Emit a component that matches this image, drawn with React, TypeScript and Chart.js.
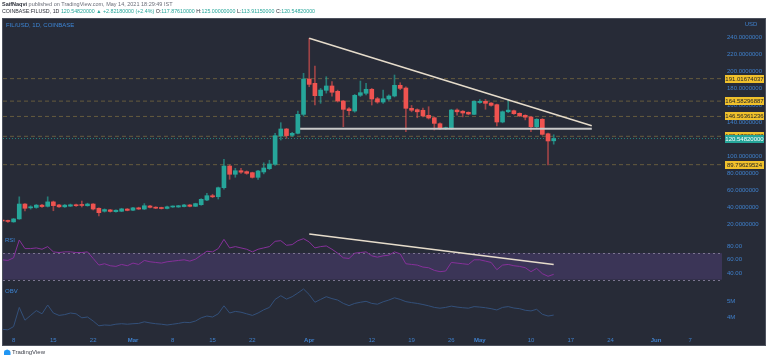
import React, { useEffect, useRef } from 'react';
import { Chart, registerables } from 'chart.js';
Chart.register(...registerables);

// ---- data (day index 0 = Feb 6, 2021) ----
const opens = [
  24.5, 23.8, 22.5, 26, 43.5, 39, 39.5, 42.2, 40.8, 46,
  42.4, 40.2, 41, 42.6, 42.8, 41.5, 43.5, 38.5, 35, 36.6,
  34.5, 35, 37.6, 36.2, 39, 37.6, 41.2, 39.8, 39.2, 38.3,
  40, 40, 40.5, 42.4, 40.8, 42.7, 48.2, 53.3, 52.1, 62.7,
  88.2, 78.5, 82.7, 81.6, 80.4, 74.9, 81.2, 85.1, 90.2, 123.5,
  131.8, 124.3, 126.7, 149, 190.6, 185.5, 171, 177.3, 182.4, 176.1,
  164.7, 155.5, 152.9, 171.4, 173.8, 178.5, 167.4, 163.5, 167.1, 170.6,
  183.2, 180, 156.1, 154.5, 153.8, 147.9, 145, 138, 132.1, 131.8,
  154.1, 152.7, 151.4, 149, 162.9, 164.3, 162.3, 160.4, 140, 152.1,
  153.3, 150.2, 147.9, 145.9, 134.5, 143.2, 126.2, 117.88,
];
const closes = [
  23.5, 23, 26, 43.5, 38.5, 40.2, 42.2, 40.5, 46, 41.6,
  40.2, 42.2, 42.6, 41.5, 41.8, 43.5, 37.6, 33.3, 37, 34.8,
  36.2, 37.8, 36, 39, 37.6, 41.5, 39.6, 38.6, 38.2, 40.2,
  40.8, 41.5, 42.4, 40.8, 44, 49, 53.3, 52, 62.7, 88.2,
  78.5, 82.7, 81, 79.6, 74.9, 82.4, 85.9, 90.6, 123.9, 131.8,
  124, 126.7, 149, 190.6, 184.3, 171, 177.6, 182.4, 175, 164.7,
  154.9, 153.3, 171.4, 174.5, 178.5, 167.1, 163.5, 167.4, 170.6, 183.2,
  179.6, 156.1, 153.8, 152, 147.1, 144.7, 138.4, 132.1, 133.2, 154.1,
  152, 150.6, 149.4, 164.3, 164.3, 162, 159.6, 140, 152.1, 154,
  149.8, 147.1, 145.7, 134.5, 143.2, 125.5, 117.69, 120.5482,
];
const highs = [
  25.5, 24.5, 26.5, 52, 44, 41.5, 43, 43, 52, 47,
  43, 43, 43.5, 43.5, 47, 44.5, 44, 39, 37.8, 37.2,
  36.8, 38.5, 38.2, 39.5, 39.8, 44, 42, 40.3, 39.8, 41,
  41.3, 42, 43, 43, 44.5, 49.8, 56, 55, 63.5, 96,
  89.5, 85.5, 85.5, 82.5, 81, 83, 92, 95, 126.7, 139.2,
  132.5, 128, 153, 197.3, 238.5, 205.9, 179.5, 193.3, 187.5, 177.5,
  165.5, 157, 172.5, 188.2, 185.5, 179.5, 169, 177.6, 172, 195.3,
  186.2, 181.5, 159.5, 155.5, 156.5, 158, 146, 139, 134, 155,
  155.5, 153.5, 152, 165, 166.5, 166.5, 163, 161, 153, 165.9,
  154, 150.8, 148.5, 146.5, 144, 144, 127, 125,
];
const lows = [
  22.5, 22, 22, 25.5, 35.3, 37.5, 38.5, 39.5, 40, 35.6,
  39.5, 39.5, 40.5, 40.8, 40, 41, 36.5, 29.4, 34, 34,
  33.8, 34.5, 35.5, 35.8, 37, 37, 39, 38, 37.6, 37.8,
  39.5, 39.6, 40, 40.2, 40.5, 42, 47.5, 51, 49.4, 61,
  72.6, 75, 79.5, 78.5, 74, 72.5, 79, 84, 89, 118.8,
  120.8, 123, 126, 147, 181.5, 160, 162, 174, 170.5, 163.5,
  134.5, 148, 151.5, 170, 172, 160, 162, 162, 165.5, 169.5,
  178, 128.6, 152, 145, 146, 143.5, 130.6, 131, 131, 131,
  148, 146, 148.5, 148.5, 162, 155, 158.5, 135.3, 139, 151,
  149, 146.5, 142.5, 128.6, 133.5, 124.5, 89.4, 113.91,
];
const rsiValues = [
  60, 59, 63, 90, 77, 77, 78, 76, 80, 72,
  71, 72, 72, 71, 71, 72, 62, 52, 54, 51,
  50, 53, 51, 55, 53, 59, 57, 56, 55, 57,
  58, 59, 60, 58, 61, 67, 73, 72, 77, 91,
  78, 80, 78, 76, 72, 76, 78, 80, 88, 89,
  82, 83, 89, 92, 87, 78, 80, 81, 76, 70,
  63, 62, 70, 71, 72, 66, 64, 66, 67, 72,
  69, 54, 53, 52, 49, 48, 44, 42, 43, 56,
  55, 54, 53, 60, 60, 58, 56, 45, 52, 53,
  51, 50, 48, 42, 47, 39, 35, 38,
];
const obvValues = [
  3.23, 3.2, 3.4, 4.6, 3.8, 4.1, 4.4, 4.2, 4.75, 4.25,
  4.1, 4.15, 4.25, 4.2, 3.95, 4.0, 3.75, 3.45, 3.5, 3.48,
  3.55, 3.58, 3.55, 3.58, 3.6, 3.7, 3.63, 3.58, 3.55, 3.5,
  3.55, 3.6, 3.67, 3.65, 3.75, 3.95, 4.06, 4.0, 4.2, 4.7,
  4.25, 4.35, 4.3, 4.2, 4.1, 4.25, 4.45, 4.6, 5.1, 5.33,
  5.12, 5.27, 5.5, 5.75, 5.4, 4.92, 5.1, 5.27, 5.15, 5.06,
  4.85, 4.71, 4.85, 4.92, 4.98, 4.85, 4.8, 4.95, 5.06, 5.2,
  5.1, 4.96, 4.9, 4.85, 4.78, 4.7, 4.6, 4.55, 4.6, 4.68,
  4.62, 4.58, 4.55, 4.65, 4.62, 4.58, 4.52, 4.44, 4.6, 4.65,
  4.56, 4.52, 4.42, 4.38, 4.48, 4.17, 4.06, 4.12,
];

const levelValues = [191.01674037, 164.58296887, 146.56361236, 123.17802428, 89.79629524];
const levelLabels = ['191.01674037', '164.58296887', '146.56361236', '123.17802428', '89.79629524'];
const lastPrice = 120.5482;
const lastPriceLabel = '120.54820000';

const triangleTopX = [54, 103.7];
const triangleTopY = [238.5, 135.6];
const triangleBaseX = [52.4, 103.7];
const triangleBaseY = [132.1, 132.1];
const rsiTrendX = [54, 97];
const rsiTrendY = [99, 53];

const xTickDays = [2, 9, 16, 23, 30, 37, 44, 54, 65, 72, 79, 84, 93, 100, 107, 115, 121];
const xTickLabels = ['8', '15', '22', 'Mar', '8', '15', '22', 'Apr', '12', '19', '26', 'May', '10', '17', '24', 'Jun', '7'];
const monthTickLabels = ['Mar', 'Apr', 'May', 'Jun'];
const priceTicks = [20, 40, 60, 80, 100, 120, 140, 160, 180, 200, 220, 240];
const rsiTicks = [40, 60, 80];
const obvTicks = [4, 5];
const rsiBand = [70, 30];

const X_MIN = 0.14;
const X_MAX = 126.6;
const UP = '#26a69a';
const DOWN = '#ef5350';
const PANEL = '#272b37';
const AXIS_TEXT = '#3f80cc';
const FONT = '"Liberation Sans", Arial, sans-serif';

Chart.defaults.font.family = FONT;

const tvPlugin = {
  id: 'tvDecor',
  beforeDraw(chart: any) {
    const { ctx, chartArea } = chart;
    ctx.save();
    ctx.fillStyle = '#ffffff';
    ctx.fillRect(0, 0, chart.width, chart.height);
    ctx.fillStyle = PANEL;
    ctx.fillRect(2, 18, 764, 328);
    ctx.strokeStyle = '#4d525e';
    ctx.lineWidth = 1;
    ctx.strokeRect(2.5, 18.5, 763, 327);
    const yR = chart.scales.yR;
    const t = yR.getPixelForValue(rsiBand[0]);
    const b = yR.getPixelForValue(rsiBand[1]);
    ctx.fillStyle = 'rgba(126,87,194,0.24)';
    ctx.fillRect(chartArea.left, t, chartArea.right - chartArea.left, b - t);
    ctx.setLineDash([2, 3]);
    ctx.strokeStyle = '#7c7590';
    ctx.beginPath();
    ctx.moveTo(chartArea.left, Math.round(t) + 0.5);
    ctx.lineTo(chartArea.right, Math.round(t) + 0.5);
    ctx.moveTo(chartArea.left, Math.round(b) + 0.5);
    ctx.lineTo(chartArea.right, Math.round(b) + 0.5);
    ctx.stroke();
    ctx.restore();
  },
  afterDraw(chart: any) {
    const { ctx } = chart;
    const y = chart.scales.y;
    ctx.save();
    ctx.font = `6px ${FONT}`;
    ctx.textBaseline = 'middle';
    ctx.fillStyle = '#3d86d6';
    ctx.textAlign = 'left';
    ctx.fillText('FIL/USD, 1D, COINBASE', 6, 25.5);
    ctx.fillText('RSI', 5, 240);
    ctx.fillText('OBV', 5, 291);
    ctx.fillStyle = AXIS_TEXT;
    ctx.textAlign = 'center';
    ctx.fillText('USD', 751, 24.5);
    levelValues.forEach((v, i) => {
      const py = y.getPixelForValue(v);
      ctx.fillStyle = '#f0c12c';
      ctx.fillRect(725, Math.round(py) - 4, 39, 8);
      ctx.fillStyle = '#1c1f26';
      ctx.fillText(levelLabels[i], 744.5, Math.round(py) + 0.5);
    });
    const lp = y.getPixelForValue(lastPrice);
    ctx.fillStyle = UP;
    ctx.fillRect(725, Math.round(lp) - 4, 39, 8);
    ctx.fillStyle = '#ffffff';
    ctx.fillText(lastPriceLabel, 744.5, Math.round(lp) + 0.5);
    ctx.restore();
  },
};

function flatLine(v: number) {
  return [{ x: X_MIN, y: v }, { x: X_MAX, y: v }];
}

export default function App() {
  const ref = useRef<HTMLCanvasElement>(null);
  useEffect(() => {
    document.body.style.margin = '0';
    const colors = closes.map((c, i) => (c >= opens[i] ? UP : DOWN));
    const wickColors = closes.map((c, i) => (c >= opens[i] ? 'rgba(38,166,154,0.65)' : 'rgba(239,83,80,0.6)'));
    const datasets: any[] = [
      {
        type: 'bar',
        data: highs.map((h, i) => ({ x: i, y: [lows[i], h] })),
        backgroundColor: wickColors,
        barThickness: 1,
        grouped: false,
        borderWidth: 0,
        yAxisID: 'y',
        order: 3,
      },
      {
        type: 'bar',
        data: opens.map((o, i) => ({ x: i, y: [o, closes[i]] })),
        backgroundColor: colors,
        barThickness: 4,
        minBarLength: 1,
        grouped: false,
        borderWidth: 0,
        yAxisID: 'y',
        order: 2,
      },
      ...levelValues.map((v) => ({
        type: 'line',
        data: flatLine(v),
        borderColor: 'rgba(180,150,70,0.45)',
        borderDash: [4, 3],
        borderWidth: 1,
        pointRadius: 0,
        yAxisID: 'y',
        order: 4,
      })),
      {
        type: 'line',
        data: flatLine(lastPrice),
        borderColor: 'rgba(38,166,154,0.7)',
        borderDash: [1, 2],
        borderWidth: 1,
        pointRadius: 0,
        yAxisID: 'y',
        order: 4,
      },
      {
        type: 'line',
        data: triangleTopX.map((x, i) => ({ x, y: triangleTopY[i] })),
        borderColor: '#e6dccb',
        borderWidth: 1.5,
        pointRadius: 0,
        yAxisID: 'y',
        order: 1,
      },
      {
        type: 'line',
        data: triangleBaseX.map((x, i) => ({ x, y: triangleBaseY[i] })),
        borderColor: '#c9c9c9',
        borderWidth: 2,
        pointRadius: 0,
        yAxisID: 'y',
        order: 1,
      },
      {
        type: 'line',
        data: rsiValues.map((v, i) => ({ x: i, y: v })),
        borderColor: '#86309a',
        borderWidth: 1,
        pointRadius: 0,
        yAxisID: 'yR',
        order: 1,
      },
      {
        type: 'line',
        data: rsiTrendX.map((x, i) => ({ x, y: rsiTrendY[i] })),
        borderColor: '#e6dccb',
        borderWidth: 1.5,
        pointRadius: 0,
        yAxisID: 'yR',
        order: 0,
      },
      {
        type: 'line',
        data: obvValues.map((v, i) => ({ x: i, y: v })),
        borderColor: '#33507a',
        borderWidth: 1,
        pointRadius: 0,
        yAxisID: 'yO',
        order: 1,
      },
    ];

    const yCommon = (ticks: number[], fmt: (v: number) => string, min: number, max: number, weight: number) => ({
      type: 'linear',
      position: 'right',
      stack: 'panes',
      stackWeight: weight,
      min,
      max,
      grid: { display: false, drawTicks: false },
      border: { display: false },
      ticks: {
        autoSkip: false,
        padding: 5,
        color: AXIS_TEXT,
        font: { size: 6 },
        callback: (v: any) => fmt(Number(v)),
      },
      afterBuildTicks: (s: any) => {
        s.ticks = ticks.map((v) => ({ value: v }));
      },
      afterFit: (s: any) => {
        s.width = 44;
      },
    });

    const chart = new Chart(ref.current as HTMLCanvasElement, {
      type: 'bar',
      data: { datasets },
      plugins: [tvPlugin],
      options: {
        responsive: false,
        animation: false,
        devicePixelRatio: 1,
        layout: { padding: { left: 3, right: 2, top: 19, bottom: 16 } },
        plugins: { legend: { display: false }, tooltip: { enabled: false } },
        scales: {
          x: {
            type: 'linear',
            position: 'bottom',
            min: X_MIN,
            max: X_MAX,
            offset: false,
            grid: { display: false, drawTicks: false },
            border: { display: false },
            ticks: {
              autoSkip: false,
              maxRotation: 0,
              padding: 2,
              color: AXIS_TEXT,
              font: (c: any) => ({
                size: 6,
                weight: monthTickLabels.includes(xTickLabels[xTickDays.indexOf(c.tick ? c.tick.value : -1)]) ? 'bold' : 'normal',
              }),
              callback: (v: any) => {
                const k = xTickDays.indexOf(Number(v));
                return k >= 0 ? xTickLabels[k] : '';
              },
            },
            afterBuildTicks: (s: any) => {
              s.ticks = xTickDays.map((v) => ({ value: v }));
            },
            afterFit: (s: any) => {
              s.height = 11;
            },
          },
          y: yCommon(priceTicks, (v) => v.toFixed(7), 9.41, 261.2, 214),
          yR: yCommon(rsiTicks, (v) => v.toFixed(2), 18.8, 100.6, 54),
          yO: yCommon(obvTicks, (v) => `${v}M`, 2.875, 5.875, 48),
        } as any,
      },
    } as any);
    return () => chart.destroy();
  }, []);

  const teal = { color: '#26a69a' };
  return (
    <div style={{ position: 'relative', width: 768, height: 362, background: '#fff', overflow: 'hidden', fontFamily: FONT }}>
      <canvas ref={ref} width={768} height={362} style={{ position: 'absolute', left: 0, top: 0, width: 768, height: 362 }} />
      <div style={{ position: 'absolute', left: 2, top: 1, fontSize: 5.5, lineHeight: '6px', color: '#6a6d78', whiteSpace: 'nowrap' }}>
        <b style={{ color: '#2a2e39' }}>SaifNaqvi</b> published on TradingView.com, May 14, 2021 18:29:49 IST
      </div>
      <div style={{ position: 'absolute', left: 2, top: 8, fontSize: 5.3, lineHeight: '6px', color: '#2a2e39', whiteSpace: 'nowrap' }}>
        COINBASE:FILUSD, 1D <span style={teal}>120.54820000 ▲ +2.82180000 (+2.4%)</span> O:<span style={teal}>117.87610000</span> H:<span style={teal}>125.00000000</span> L:<span style={teal}>113.91150000</span> C:<span style={teal}>120.54820000</span>
      </div>
      <div style={{ position: 'absolute', left: 3, top: 349, display: 'flex', alignItems: 'center', gap: 1, fontSize: 6, color: '#3a3e48', whiteSpace: 'nowrap' }}>
        <svg width="8" height="6" viewBox="0 0 8 6">
          <path d="M1 6 L1 3 Q1 1 3 1 Q4 0 5.5 1 Q7.5 1 7.5 3.5 L7.5 6 Z" fill="#2196f3" />
        </svg>
        <span>TradingView</span>
      </div>
    </div>
  );
}
